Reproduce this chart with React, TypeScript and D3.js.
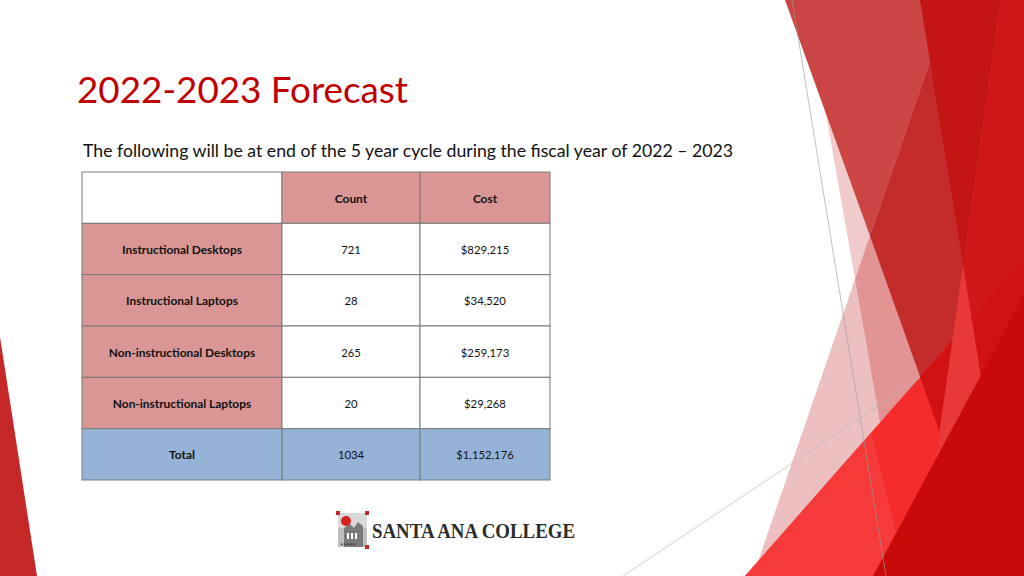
import React from "react";
import * as d3 from "d3";

// ---- data ----
const categories = [
  "Instructional Desktops",
  "Instructional Laptops",
  "Non-instructional Desktops",
  "Non-instructional Laptops",
];
const counts = [721, 28, 265, 20];
const costs = [829215, 34520, 259173, 29268];
const headerLabels = ["", "Count", "Cost"];
const totalLabel = "Total";
const titleText = "2022-2023 Forecast";
const subtitleText =
  "The following will be at end of the 5 year cycle during the fiscal year of 2022 \u2013 2023";
const logoText = "SANTA ANA COLLEGE";

const W = 1024;
const H = 576;
const FONT = "Lato, 'Open Sans', 'Liberation Sans', sans-serif";

const PINK = "#D99694";
const BLUE = "#95B3D7";
const BORDER = "#7a7a7a";

// decorative theme shapes (background artwork)
type Poly = { pts: [number, number][]; fill: string };
const decor: Poly[] = [
  { pts: [[951, 0], [1024, 0], [1024, 576], [753, 576]], fill: "#ECC0C0" },
  { pts: [[806, 0], [951, 0], [855, 279]], fill: "#F1CBCB" },
  { pts: [[951, 0], [1024, 0], [1024, 576], [907, 576], [855, 279]], fill: "#E29494" },
  { pts: [[785, 0], [951, 0], [870, 236]], fill: "#CC4545" },
  { pts: [[870, 236], [951, 0], [1024, 0], [1024, 576], [991, 576]], fill: "#C42C2C" },
  { pts: [[920, 0], [1000, 0], [963, 265]], fill: "#C41515" },
  { pts: [[1000, 0], [1024, 0], [1024, 576], [1013, 576], [963, 265]], fill: "#D01818" },
  { pts: [[745, 576], [920, 377], [1024, 258], [1024, 576]], fill: "#F42C2C" },
  { pts: [[745, 576], [871, 433], [907, 576]], fill: "#F63A3A" },
  { pts: [[920, 377], [1024, 258], [1024, 576], [991, 576]], fill: "#D01212" },
  { pts: [[963, 265], [1013, 576], [919, 576]], fill: "#E83838" },
  { pts: [[1024, 295], [1024, 576], [873, 576]], fill: "#C80A0A" },
  { pts: [[0, 337], [37, 576], [0, 576]], fill: "#C62828" },
];

export default function App() {
  const rowKeys = ["__header", ...categories, "__total"];
  const y = d3.scaleBand<string>().domain(rowKeys).range([172, 480]).padding(0);
  const colEdges = [82, 282, 420, 550];
  const x = d3.scaleOrdinal<number, number>().domain([0, 1, 2, 3]).range(colEdges);
  const fmtCost = d3.format("$,");
  const totalCount = d3.sum(counts);
  const totalCost = d3.sum(costs);
  const line = d3.line();

  const rows: { key: string; cells: string[]; fills: string[]; bold: boolean[] }[] = [
    {
      key: "__header",
      cells: headerLabels,
      fills: ["#ffffff", PINK, PINK],
      bold: [true, true, true],
    },
    ...categories.map((c, i) => ({
      key: c,
      cells: [c, String(counts[i]), fmtCost(costs[i])],
      fills: [PINK, "#ffffff", "#ffffff"],
      bold: [true, false, false],
    })),
    {
      key: "__total",
      cells: [totalLabel, String(totalCount), fmtCost(totalCost)],
      fills: [BLUE, BLUE, BLUE],
      bold: [true, false, false],
    },
  ];

  return (
    <svg
      width={W}
      height={H}
      viewBox={`0 0 ${W} ${H}`}
      style={{ position: "absolute", left: 0, top: 0, background: "#fff" }}
    >
      <rect x={0} y={0} width={W} height={H} fill="#ffffff" />
      {decor.map((p, i) => (
        <path key={i} d={line(p.pts.concat([p.pts[0]]))!} fill={p.fill} />
      ))}
      <path d={line([[792, 0], [886, 576]])!} stroke="#9a9a9a" strokeWidth={0.8} fill="none" opacity={0.8} />
      <path d={line([[623, 576], [920, 378]])!} stroke="#b5b5b5" strokeWidth={0.8} fill="none" opacity={0.8} />

      <text
        x={77}
        y={103}
        fontFamily={FONT}
        fontSize={37}
        fill="#C00000"
        textLength={331}
        lengthAdjust="spacingAndGlyphs"
      >
        {titleText}
      </text>
      <text
        x={83}
        y={157}
        fontFamily={FONT}
        fontSize={16.5}
        fill="#111"
        textLength={650}
        lengthAdjust="spacingAndGlyphs"
      >
        {subtitleText}
      </text>

      <g>
        {rows.map((r) => {
          const y0 = y(r.key)!;
          const h = y.bandwidth();
          return (
            <g key={r.key}>
              {r.cells.map((c, ci) => {
                const x0 = x(ci);
                const x1 = x(ci + 1);
                return (
                  <g key={ci}>
                    <rect x={x0} y={y0} width={x1 - x0} height={h} fill={r.fills[ci]} stroke={BORDER} strokeWidth={1} />
                    <text
                      x={(x0 + x1) / 2}
                      y={y0 + h / 2 + 1}
                      dy="0.35em"
                      textAnchor="middle"
                      fontFamily={FONT}
                      fontSize={r.bold[ci] ? 11.9 : 11.3}
                      fontWeight={r.bold[ci] ? 700 : 400}
                      fill="#111"
                    >
                      {c}
                    </text>
                  </g>
                );
              })}
            </g>
          );
        })}
      </g>

      {/* logo */}
      <g>
        <rect x={338} y={513} width={29} height={34} fill="#bdbdbd" />
        <rect x={338} y={513} width={29} height={15} fill="#d9d9d9" />
        <path d="M344,547 L344,528 L350,524 L354,528 L358,522 L363,526 L363,547 Z" fill="#7a7a7a" />
        <circle cx={346} cy={521} r={5} fill="#d42020" />
        <rect x={347} y={533} width={2} height={6} fill="#fff" />
        <rect x={351} y={533} width={2} height={6} fill="#fff" />
        <rect x={355} y={533} width={2} height={6} fill="#fff" />
        {[0, 1, 2, 3, 4].map((i) => (
          <rect key={i} x={341 + i * 3} y={543.5} width={1.6} height={1.6} fill="#333" />
        ))}
        <rect x={336} y={511} width={4} height={4} fill="#c0282a" />
        <rect x={365} y={511} width={4} height={4} fill="#c0282a" />
        <rect x={365} y={545} width={4} height={4} fill="#c0282a" />
        <text
          x={372}
          y={538}
          fontFamily="'Liberation Serif', 'DejaVu Serif', serif"
          fontSize={21.5}
          fontWeight={700}
          fill="#2b2b2b"
          textLength={203}
          lengthAdjust="spacingAndGlyphs"
        >
          {logoText}
        </text>
      </g>
    </svg>
  );
}
